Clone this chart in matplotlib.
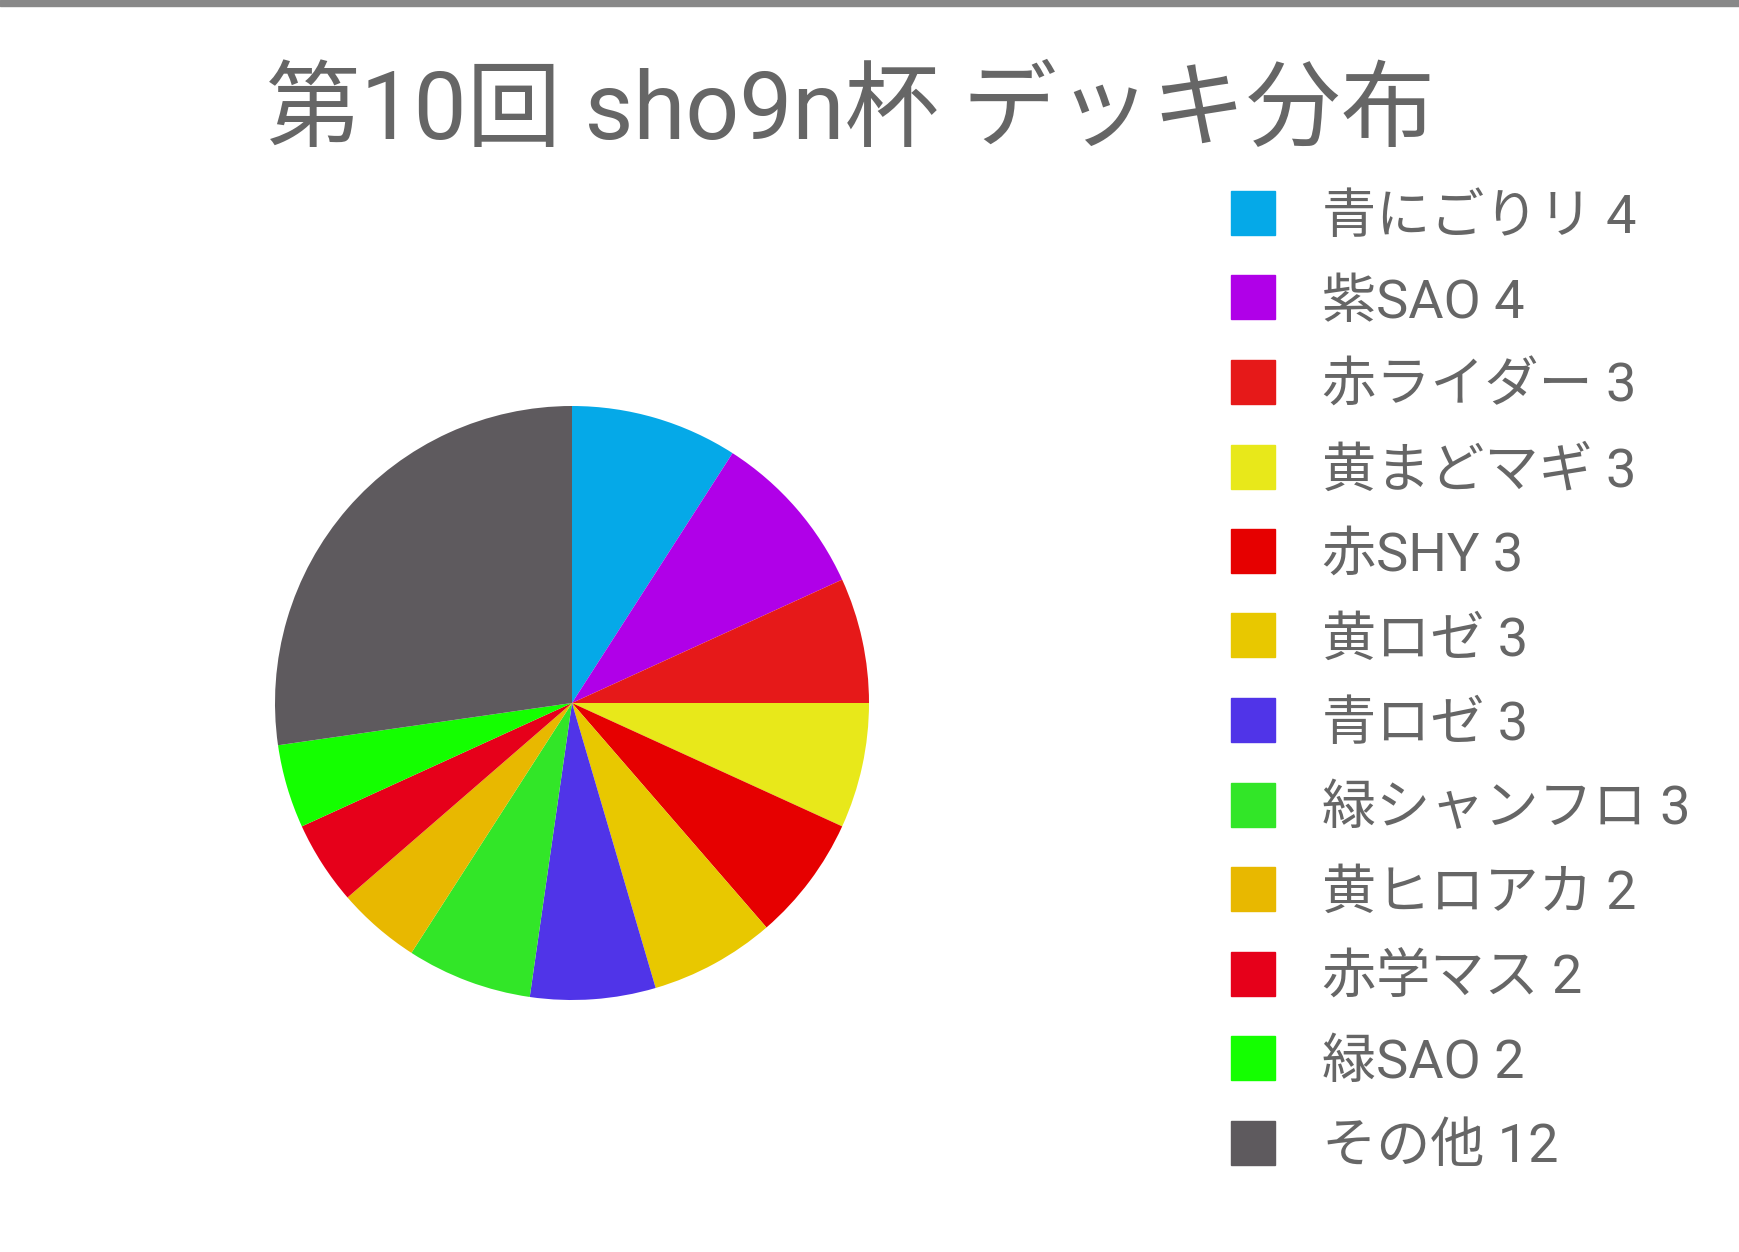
import matplotlib
matplotlib.use('Agg')
import matplotlib.pyplot as plt
from matplotlib.patches import Rectangle

# Datos
decks = ['青にごりリ', '紫SAO', '赤ライダー', '黄まどマギ', '赤SHY', '黄ロゼ',
         '青ロゼ', '緑シャンフロ', '黄ヒロアカ', '赤学マス', '緑SAO', 'その他']
counts = [4, 4, 3, 3, 3, 3, 3, 3, 2, 2, 2, 12]
colores = ['#05A9E8', '#B000E8', '#E61919', '#E8E81A', '#E60000', '#E8C800',
           '#5034E8', '#32E628', '#E8B800', '#E6001A', '#14FF00', '#5E5A5E']

plt.rcParams['font.family'] = ['Roboto', 'Noto Sans CJK JP', 'DejaVu Sans']
gris = '#666666'

W, H = 1739, 1252
fig = plt.figure(figsize=(W / 100, H / 100), dpi=100)
fig.patch.set_facecolor('white')

# barra superior
fig.patches.append(Rectangle((0, 1 - 6 / H), 1, 6 / H, transform=fig.transFigure,
                             color='#888888', zorder=5))

# titulo
fig.text(851 / W, 1 - 113 / H, '第10回 sho9n杯 デッキ分布', ha='center', va='center',
         fontsize=68, color=gris)

# pastel
cx, cy, r = 572, 703, 297
ax = fig.add_axes([(cx - r) / W, (H - cy - r) / H, 2 * r / W, 2 * r / H])
ax.pie(counts, colors=colores, startangle=90, counterclock=False, radius=1,
       wedgeprops={'linewidth': 0})
ax.set_xlim(-1, 1)
ax.set_ylim(-1, 1)
ax.set_aspect('equal')
ax.axis('off')

# leyenda
y0, paso, lado = 213, 84.5, 44
for i, (d, c, col) in enumerate(zip(decks, counts, colores)):
    y = y0 + i * paso
    fig.patches.append(Rectangle((1231 / W, 1 - (y + lado / 2) / H), lado / W, lado / H,
                                 transform=fig.transFigure, color=col))
    fig.text(1322 / W, 1 - y / H, f'{d} {c}', ha='left', va='center_baseline',
             fontsize=39, color=gris)

fig.savefig('out.png', dpi=100)
